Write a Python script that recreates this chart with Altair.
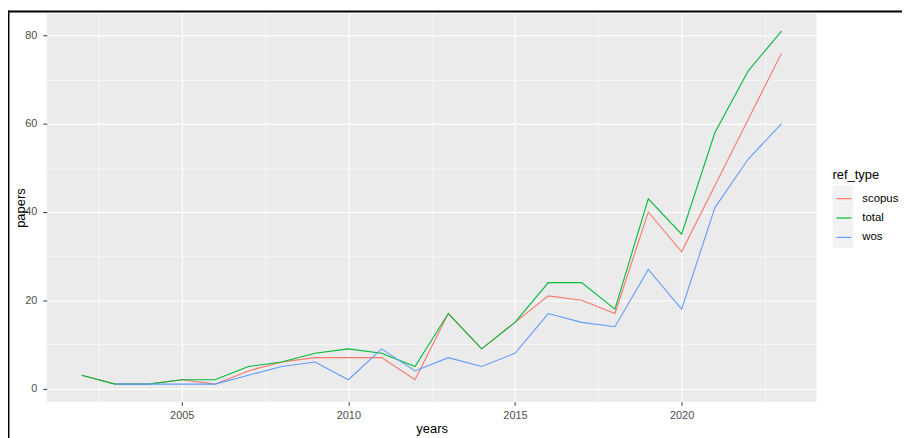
import altair as alt
import pandas as pd

years = list(range(2002, 2024))
scopus = [3, 1, 1, 2, 1, 4, 6, 7, 7, 7, 2, 17, 9, 15, 21, 20, 17, 40, 31, 46, 61, 76]
total = [3, 1, 1, 2, 2, 5, 6, 8, 9, 8, 5, 17, 9, 15, 24, 24, 18, 43, 35, 58, 72, 81]
wos = [None, 1, 1, 1, 1, 3, 5, 6, 2, 9, 4, 7, 5, 8, 17, 15, 14, 27, 18, 41, 52, 60]

series_names = ["scopus", "total", "wos"]
series_colors = ["#F8766D", "#00BA38", "#619CFF"]
key_fill = ["#F2F2F2", "#F2F2F2", "#F2F2F2"]
x_tick_values = [2002.5, 2005, 2007.5, 2010, 2012.5, 2015, 2017.5, 2020, 2022.5]
y_tick_values = [0, 10, 20, 30, 40, 50, 60, 70, 80]

rows = []
for name, vals in zip(series_names, [scopus, total, wos]):
    for yr, v in zip(years, vals):
        if v is not None:
            rows.append({"years": yr, "papers": v, "ref_type": name})
df = pd.DataFrame(rows)

FONT = "Liberation Sans"

x_axis = alt.Axis(
    values=x_tick_values,
    format="d",
    labelExpr="datum.value % 5 === 0 ? datum.label : ''",
    grid=True,
    gridColor="white",
    gridWidth={"condition": {"test": "datum.value % 5 === 0", "value": 1.1}, "value": 0.55},
    tickOpacity={"condition": {"test": "datum.value % 5 === 0", "value": 1}, "value": 0},
    tickColor="#333333",
    tickSize=3.5,
    tickWidth=1,
    domain=False,
    labelColor="#4D4D4D",
    labelFont=FONT,
    labelFontSize=11,
    labelPadding=4,
    titleFont=FONT,
    titleFontSize=13,
    titleFontWeight="normal",
    titleColor="black",
    titlePadding=2,
)

y_axis = alt.Axis(
    values=y_tick_values,
    format="d",
    labelExpr="datum.value % 20 === 0 ? datum.label : ''",
    grid=True,
    gridColor="white",
    gridWidth={"condition": {"test": "datum.value % 20 === 0", "value": 1.1}, "value": 0.55},
    tickOpacity={"condition": {"test": "datum.value % 20 === 0", "value": 1}, "value": 0},
    tickColor="#333333",
    tickSize=4,
    tickWidth=1,
    domain=False,
    labelColor="#4D4D4D",
    labelFont=FONT,
    labelFontSize=11,
    labelPadding=6,
    titleFont=FONT,
    titleFontSize=13,
    titleFontWeight="normal",
    titleColor="black",
    titleX=-19,
)

x_enc = alt.X("years:Q", scale=alt.Scale(domain=[2000.95, 2024.05], nice=False, zero=False), axis=x_axis)
y_enc = alt.Y("papers:Q", scale=alt.Scale(domain=[-3, 85], nice=False, zero=False), axis=y_axis)

# grey key backgrounds (drawn as a legend behind the line legend)
keys = alt.Chart(df).mark_square(opacity=0).encode(
    x=x_enc,
    y=y_enc,
    fill=alt.Fill(
        "ref_type:N",
        scale=alt.Scale(domain=series_names, range=key_fill),
        legend=alt.Legend(
            title=None,
            orient="none",
            legendX=791,
            legendY=173,
            symbolType="square",
            symbolSize=420,
            symbolOpacity=1,
            symbolStrokeWidth=0,
            symbolOffset=0,
            padding=0,
            rowPadding=0,
            labelExpr="''",
            labelFontSize=11,
        ),
    ),
)

lines = alt.Chart(df).mark_line(strokeWidth=1.1).encode(
    x=x_enc,
    y=y_enc,
    stroke=alt.Stroke(
        "ref_type:N",
        scale=alt.Scale(domain=series_names, range=series_colors),
        legend=alt.Legend(
            title="ref_type",
            orient="none",
            legendX=791,
            legendY=157,
            symbolType="stroke",
            symbolSize=225,
            symbolStrokeWidth=1.2,
            symbolOffset=3,
            padding=0,
            rowPadding=5.5,
            labelOffset=10,
            labelFont=FONT,
            labelFontSize=11.5,
            labelColor="black",
            titleFont=FONT,
            titleFontSize=13,
            titleFontWeight="normal",
            titleColor="black",
            titlePadding=8,
        ),
    ),
    detail="ref_type:N",
)

frame_data = alt.Data(values=[{"k": 1}])
frame_left = alt.Chart(frame_data).mark_rule(color="black", strokeWidth=2).encode(
    x=alt.value(-38.5), y=alt.value(-3), y2=alt.value(430)
)
frame_top = alt.Chart(frame_data).mark_rule(color="black", strokeWidth=2).encode(
    x=alt.value(-39.5), x2=alt.value(900), y=alt.value(-2)
)

chart = alt.layer(keys, lines, frame_left, frame_top).resolve_scale(
    fill="independent", stroke="independent"
).properties(
    width=775,
    height=391,
    autosize=alt.AutoSizeParams(type="none"),
    padding={"left": 39, "top": 4, "right": 86, "bottom": 35},
    background="white",
).configure_view(
    fill="#EBEBEB",
    stroke=None,
)

chart.save("out.html", embed_options={"renderer": "svg", "actions": False})
